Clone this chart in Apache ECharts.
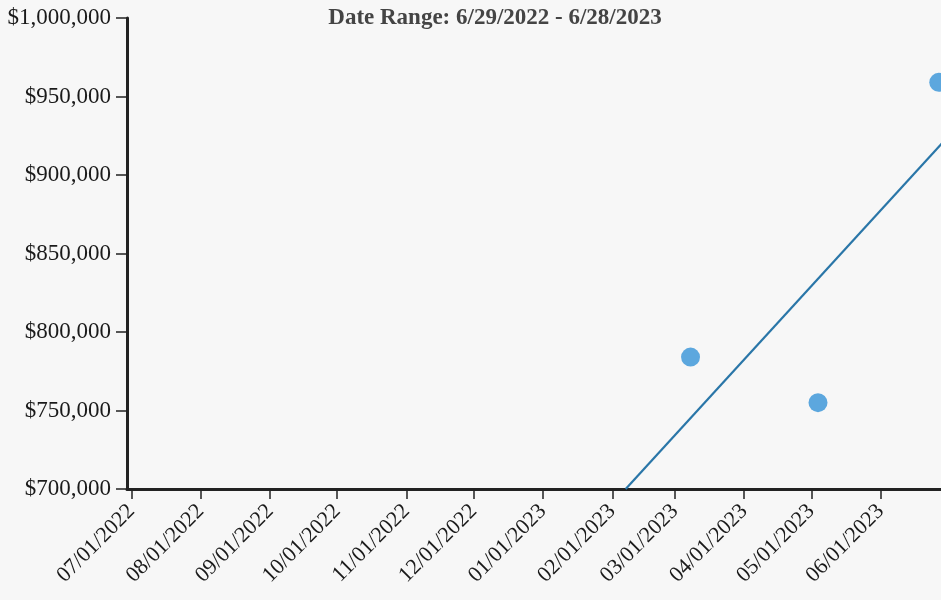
<!DOCTYPE html>
<html>
<head>
<meta charset="utf-8">
<script src="https://cdn.jsdelivr.net/npm/echarts@6/dist/echarts.min.js"></script>
<style>
  html, body { margin: 0; padding: 0; background: #f7f7f7; }
  #chart { width: 941px; height: 600px; }
</style>
</head>
<body>
<div id="chart"></div>
<script>
// sale points (date, price)
var pointDates = ['2023-03-08', '2023-05-04', '2023-06-27'];
var pointValues = [784000, 755000, 959000];
// trend line ends
var trendDates = ['2023-02-07', '2023-06-29'];
var trendValues = [700000, 921000];
// month tick labels
var tickDates = ['2022-07-01', '2022-08-01', '2022-09-01', '2022-10-01', '2022-11-01', '2022-12-01',
  '2023-01-01', '2023-02-01', '2023-03-01', '2023-04-01', '2023-05-01', '2023-06-01'];

function ts(s) {
  var p = s.split('-');
  return Date.UTC(+p[0], +p[1] - 1, +p[2]);
}
function pad(n) { return n < 10 ? '0' + n : '' + n; }

var tickTs = tickDates.map(ts);
var scatterData = pointDates.map(function (d, i) { return [ts(d), pointValues[i]]; });
var trendData = trendDates.map(function (d, i) { return [ts(d), trendValues[i]]; });

const chart = echarts.init(document.getElementById('chart'));
var option = {
  backgroundColor: '#f7f7f7',
  animation: false,
  title: {
    text: 'Date Range: 6/29/2022 - 6/28/2023',
    left: 490,
    top: 2,
    textAlign: 'center',
    textStyle: {
      fontFamily: 'Liberation Serif',
      fontWeight: 'bold',
      fontSize: 23,
      color: '#444'
    }
  },
  grid: {
    left: 127,
    right: -1,
    top: 18,
    bottom: 111,
    containLabel: false
  },
  xAxis: {
    type: 'value',
    min: ts('2022-06-29'),
    max: ts('2023-06-28'),
    axisLine: { show: true, lineStyle: { color: '#222', width: 3 } },
    axisTick: {
      show: true,
      length: 10,
      lineStyle: { color: '#222', width: 1.5 },
      customValues: tickTs
    },
    splitLine: { show: false },
    axisLabel: {
      customValues: tickTs,
      rotate: 45,
      margin: 19,
      fontFamily: 'Liberation Serif',
      fontSize: 22,
      color: '#1a1a1a',
      formatter: function (v) {
        var d = new Date(v);
        return pad(d.getUTCMonth() + 1) + '/' + pad(d.getUTCDate()) + '/' + d.getUTCFullYear();
      }
    }
  },
  yAxis: {
    type: 'value',
    min: 700000,
    max: 1000000,
    interval: 50000,
    axisLine: { show: true, lineStyle: { color: '#222', width: 3 } },
    axisTick: { show: true, length: 11, lineStyle: { color: '#222', width: 1.5 } },
    splitLine: { show: false },
    axisLabel: {
      margin: 16,
      fontFamily: 'Liberation Serif',
      fontSize: 23,
      color: '#1a1a1a',
      formatter: function (v) {
        return '$' + v.toLocaleString('en-US');
      }
    }
  },
  series: [{
    name: 'trend',
    type: 'line',
    data: trendData,
    symbol: 'none',
    clip: true,
    lineStyle: { color: '#2a76a8', width: 2.2 },
    z: 2
  }, {
    name: 'sales',
    type: 'scatter',
    data: scatterData,
    symbolSize: 19,
    clip: false,
    itemStyle: { color: '#5ca7de', opacity: 1 },
    z: 3
  }]
};
chart.setOption(option);
</script>
</body>
</html>
